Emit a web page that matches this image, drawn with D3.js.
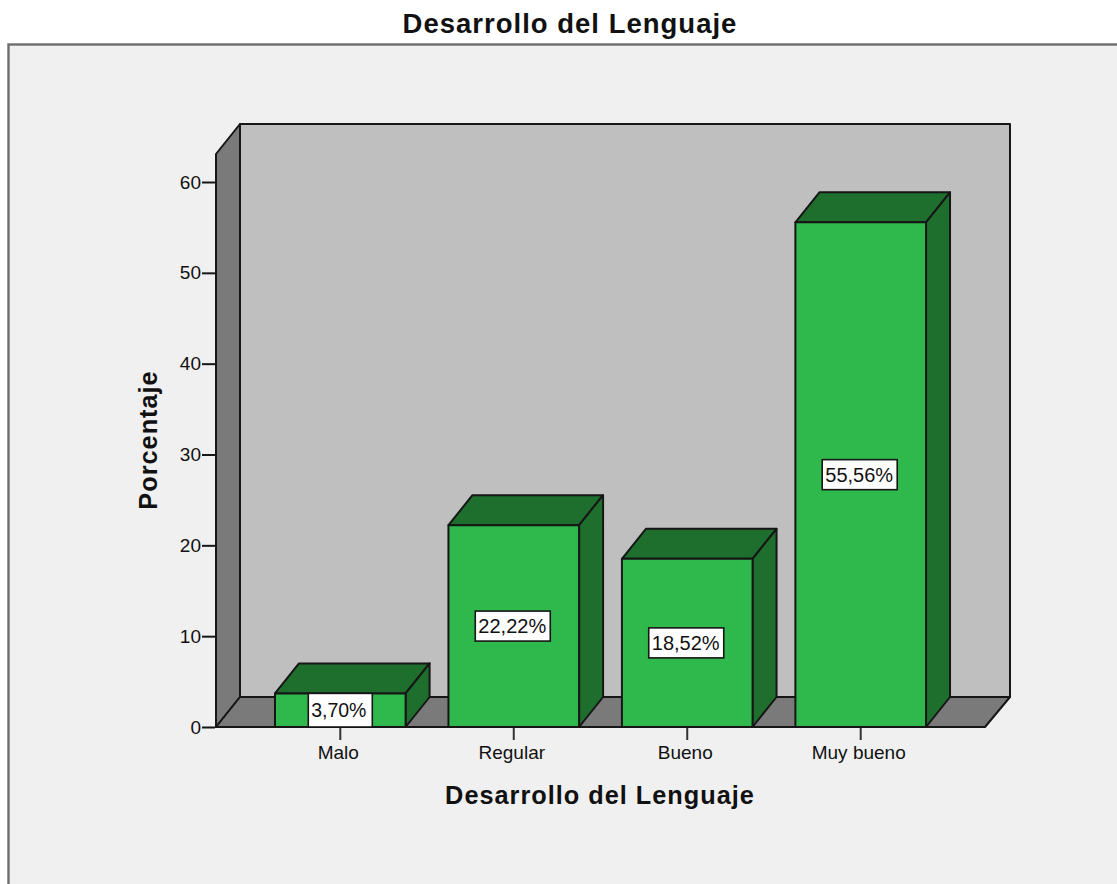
<!DOCTYPE html>
<html><head><meta charset="utf-8">
<script src="https://cdn.jsdelivr.net/npm/d3@7/dist/d3.min.js"></script>
<style>html,body{margin:0;padding:0;background:#fff}svg{display:block}text{font-family:"Liberation Sans",Arial,sans-serif}</style>
</head><body><svg id="c" width="1117" height="884"></svg>
<script>
const categories=["Malo","Regular","Bueno","Muy bueno"];
const values=[3.70,22.22,18.52,55.56];
const labels=["3,70%","22,22%","18,52%","55,56%"];
const ticks=[0,10,20,30,40,50,60];
const chartTitle="Desarrollo del Lenguaje";
const yTitle="Porcentaje";

const svg=d3.select("#c");
const y=d3.scaleLinear().domain([0,60]).range([727,182]);
const x=d3.scaleBand().domain(categories).range([216,985]).paddingInner(0.247).paddingOuter(0.34);
const dx=24,dy=-30;
const ink="#161616";
svg.append("rect").attr("x",8.5).attr("y",44.5).attr("width",1120).attr("height",860).attr("fill","#f0f0f0").attr("stroke","#6e6e6e").attr("stroke-width",2.4);
const poly=(pts,fill)=>svg.append("polygon").attr("points",pts.map(p=>p.join(",")).join(" ")).attr("fill",fill).attr("stroke",ink).attr("stroke-width",2).attr("stroke-linejoin","round");
const x0=216,x1=985,yb=y(0),yt=154;
poly([[x0+dx,yt+dy],[x1+dx+1,yt+dy],[x1+dx+1,yb+dy],[x0+dx,yb+dy]],"#bfbfbf");
poly([[x0,yt],[x0+dx,yt+dy],[x0+dx,yb+dy],[x0,yb]],"#7a7a7a");
poly([[x0,yb],[x0+dx,yb+dy],[x1+dx+1,yb+dy],[x1,yb]],"#7a7a7a");
const g=svg.append("g").attr("transform","translate(215,0)");
const axis=d3.axisLeft(y).tickValues(ticks).tickSize(13).tickPadding(1);
const ag=g.call(axis);
ag.select(".domain").remove();
ag.selectAll("line").attr("stroke",ink).attr("stroke-width",2);
ag.selectAll("text").attr("font-size",19).attr("fill","#111").attr("font-family",'"Liberation Sans",Arial,sans-serif');
const xa=svg.append("g").attr("transform",`translate(0,${yb})`).call(d3.axisBottom(x).tickSize(13).tickPadding(6));
xa.select(".domain").remove();
xa.selectAll("line").attr("stroke","#333").attr("stroke-width",2);
xa.selectAll("text").attr("font-size",19).attr("fill","#111").attr("dx",-2).attr("font-family",'"Liberation Sans",Arial,sans-serif');
categories.forEach((c,i)=>{
  const l=x(c),w=x.bandwidth(),r=l+w,t=y(values[i]);
  poly([[l,t],[l+dx,t+dy],[r+dx,t+dy],[r,t]],"#1e6e2e");
  poly([[r,t],[r+dx,t+dy],[r+dx,yb+dy],[r,yb]],"#1e6e2e");
  poly([[l,t],[r,t],[r,yb],[l,yb]],"#2fb84c");
  const short=yb-t<40;
  const bh=short?yb-t:30,bw=short?64:75,cy=(t+yb)/2;
  svg.append("rect").attr("x",l+w/2-bw/2-(short?0:1)).attr("y",cy-bh/2).attr("width",bw).attr("height",bh).attr("fill","#fff").attr("stroke",ink).attr("stroke-width",1.6);
  svg.append("text").attr("x",l+w/2-1.5).attr("y",cy+7).attr("text-anchor","middle").attr("font-size",short?19.5:20).attr("fill","#111").text(labels[i]);
});
svg.append("text").attr("x",570).attr("y",33).attr("text-anchor","middle").attr("font-size",27.5).attr("font-weight",700).attr("letter-spacing",1).attr("fill","#111").text(chartTitle);
svg.append("text").attr("x",600).attr("y",804).attr("text-anchor","middle").attr("font-size",25.3).attr("font-weight",700).attr("letter-spacing",1).attr("fill","#111").text(chartTitle);
svg.append("text").attr("transform","translate(157,440) rotate(-90)").attr("text-anchor","middle").attr("font-size",25.3).attr("font-weight",700).attr("letter-spacing",1).attr("fill","#111").text(yTitle);
</script></body></html>
